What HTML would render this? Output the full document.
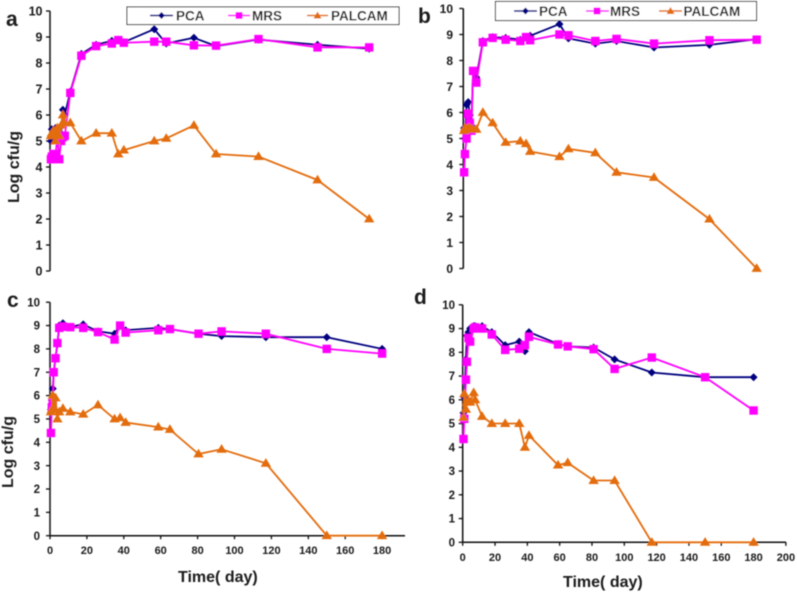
<!DOCTYPE html>
<html>
<head>
<meta charset="utf-8">
<style>
html,body{margin:0;padding:0;background:#fff}
svg{display:block;font-family:"Liberation Sans",sans-serif;font-weight:bold;fill:#1a1a1a}
</style>
</head>
<body>
<svg id="figure" width="797" height="593" viewBox="0 0 797 593" xmlns="http://www.w3.org/2000/svg">
  <defs><filter id="soft" x="-5%" y="-5%" width="110%" height="110%"><feGaussianBlur stdDeviation="0.45"/></filter></defs>
  <g id="root" filter="url(#soft)">
    <text x="6" y="26" font-size="21">a</text>
    <text x="418" y="23" font-size="21">b</text>
    <text x="7" y="307" font-size="21">c</text>
    <text x="414" y="304" font-size="21">d</text>
    <text transform="translate(19,203) rotate(-90)" font-size="16">Log cfu/g</text>
    <text transform="translate(13,488) rotate(-90)" font-size="16">Log cfu/g</text>
    <text x="178" y="582" font-size="16">Time( day)</text>
    <text x="563" y="587" font-size="16">Time( day)</text>

    <g>
      <rect x="127" y="7" width="272" height="17.5" fill="#fff" stroke="#333" stroke-width="1"/>
      <line x1="150" y1="15.5" x2="173" y2="15.5" stroke="#000080" stroke-width="1.6"/>
      <polygon points="161.5,12 165,15.5 161.5,19 158,15.5" fill="#000080"/>
      <text x="176" y="20.5" font-size="13.5">PCA</text>
      <line x1="228" y1="15.5" x2="250" y2="15.5" stroke="#ff00ff" stroke-width="1.6"/>
      <rect x="235.5" y="12" width="7" height="7" fill="#ff00ff"/>
      <text x="252" y="20.5" font-size="13.5">MRS</text>
      <line x1="307" y1="15.5" x2="328" y2="15.5" stroke="#e36c0a" stroke-width="1.6"/>
      <polygon points="317.5,11.5 321.5,18.5 313.5,18.5" fill="#e36c0a"/>
      <text x="331" y="20.5" font-size="13.5">PALCAM</text>
    </g>
    <g>
      <rect x="495.5" y="1.5" width="261" height="19" fill="#fff" stroke="#333" stroke-width="1"/>
      <line x1="514" y1="11" x2="537" y2="11" stroke="#000080" stroke-width="1.6"/>
      <polygon points="525.5,7.5 529,11 525.5,14.5 522,11" fill="#000080"/>
      <text x="539" y="16" font-size="13.5">PCA</text>
      <line x1="586" y1="11" x2="609" y2="11" stroke="#ff00ff" stroke-width="1.6"/>
      <rect x="593.5" y="7.5" width="7" height="7" fill="#ff00ff"/>
      <text x="610" y="16" font-size="13.5">MRS</text>
      <line x1="659" y1="11" x2="682" y2="11" stroke="#e36c0a" stroke-width="1.6"/>
      <polygon points="670.5,7 674.5,14 666.5,14" fill="#e36c0a"/>
      <text x="683.5" y="16" font-size="13.5">PALCAM</text>
    </g>
  </g>
</svg>
<script>
var yTickLabels = ["0","1","2","3","4","5","6","7","8","9","10"];
var xTickLabels = ["0","20","40","60","80","100","120","140","160","180","200"];

var aDays = [0.5,1,2,3,4,5,6,7,8,11,17,25,33.5,37,40,56.5,63,78,90,113,145,173];
var aPca = [5.0,5.45,5.1,5.5,5.2,5.5,5.3,6.2,6.0,6.9,8.35,8.7,8.85,8.9,8.8,9.3,8.75,8.97,8.65,8.9,8.7,8.55];
var aMrs = [4.3,4.4,4.5,4.4,5.2,4.3,5.0,5.15,5.2,6.85,8.28,8.65,8.75,8.88,8.78,8.82,8.82,8.68,8.67,8.92,8.6,8.6];
var aPalcam = [5.2,5.3,5.4,5.0,5.5,5.2,5.6,6.0,5.7,5.7,5.0,5.3,5.3,4.5,4.65,5.0,5.1,5.6,4.5,4.4,3.5,2.0];

var bDays = [0.5,1,2,3,4,5,6,8,12,18,26,35,38.5,41,59,64.5,81,94,117,151,180];
var bPca = [5.4,5.0,6.3,6.4,5.9,5.5,7.6,7.35,8.75,8.9,8.87,8.8,8.9,8.95,9.4,8.85,8.65,8.75,8.5,8.6,8.82];
var bMrs = [3.7,4.4,5.0,5.95,5.6,5.3,7.6,7.15,8.7,8.87,8.8,8.75,8.9,8.78,9.0,8.97,8.75,8.83,8.65,8.78,8.8];
var bPalcam = [5.3,5.4,5.35,5.4,5.4,5.35,5.35,5.35,6.0,5.6,4.85,4.9,4.8,4.5,4.3,4.6,4.45,3.7,3.5,1.9,0];

var cDays = [0.5,1,1.5,2,3,4,5,7,11,18,26,35,38,41,58.7,65,80.5,93,117,150,180];
var cPca = [5.4,5.8,6.3,7.0,7.6,8.2,9.0,9.1,8.95,9.05,8.75,8.65,9.0,8.8,8.9,8.85,8.65,8.55,8.5,8.5,8.0];
var cMrs = [4.4,5.5,5.7,7.0,7.6,8.25,8.9,8.95,8.93,8.9,8.72,8.4,9.0,8.7,8.8,8.85,8.65,8.75,8.65,8.0,7.8];
var cPalcam = [5.3,5.4,6.0,5.5,5.9,5.0,5.3,5.45,5.3,5.2,5.6,5.0,5.05,4.85,4.65,4.55,3.5,3.7,3.1,0,0];

var dDays = [0.5,1,2,2.6,3.6,4.6,6.8,7.7,12,18,26.3,35,38.5,41,59,65,81,94,117,150,180];
var dPca = [5.45,6.1,7.7,8.7,8.85,9.0,9.1,9.1,9.1,8.85,8.3,8.45,8.05,8.85,8.35,8.25,8.2,7.7,7.15,6.95,6.95];
var dMrs = [4.35,5.2,6.85,7.6,8.6,8.45,9.0,9.05,9.0,8.75,8.1,8.15,8.3,8.65,8.33,8.25,8.13,7.3,7.78,6.95,5.55];
var dPalcam = [5.25,6.25,5.6,5.9,5.95,5.9,6.3,6.0,5.3,5.0,5.0,5.0,4.0,4.5,3.25,3.35,2.6,2.6,0,0,0];

var NS = "http://www.w3.org/2000/svg";
var root = document.getElementById("root");

function mk(tag, attrs, parent) {
  var el = document.createElementNS(NS, tag);
  for (var k in attrs) el.setAttribute(k, attrs[k]);
  parent.appendChild(el);
  return el;
}

function drawPanel(p) {
  function sx(d) { return p.x0 + d * p.xScale; }
  function sy(v) { return p.y0 - v * p.yScale; }

  var g = mk("g", {}, root);
  
  

  var yAxis = mk("line", {x1:p.x0, y1:sy(10), x2:p.x0, y2:p.y0, stroke:"#111", "stroke-width":1.5}, g);
  
  

  yTickLabels.forEach(function (label) {
    var v = Number(label);
    mk("line", {x1:p.x0 - 4, y1:sy(v), x2:p.x0, y2:sy(v), stroke:"#111", "stroke-width":1.3}, g);
    var t = mk("text", {x:p.yLabelX, y:sy(v) + p.yFont * 0.36, "text-anchor":"end", "font-size":p.yFont}, g);
    t.textContent = label;
    
    
  });

  if (p.showX) {
    var xAxis = mk("line", {x1:p.x0, y1:p.y0, x2:p.xEnd, y2:p.y0, stroke:"#111", "stroke-width":1.5}, g);
    
    
    xTickLabels.forEach(function (label) {
      var d = Number(label);
      if (sx(d) > p.xEnd) return;
      mk("line", {x1:sx(d), y1:p.y0, x2:sx(d), y2:p.y0 + 3.5, stroke:"#111", "stroke-width":1.3}, g);
      var t = mk("text", {x:sx(d), y:p.y0 + 18.5, "text-anchor":"middle", "font-size":11}, g);
      t.textContent = label;
      
      
    });
  }

  function series(name, values, color, marker) {
    var s = mk("g", {}, g);
    
    
    var pts = values.map(function (v, i) { return sx(p.days[i]).toFixed(1) + "," + sy(v).toFixed(1); }).join(" ");
    mk("polyline", {points:pts, fill:"none", stroke:color, "stroke-width":1.8, "stroke-linejoin":"round"}, s);
    values.forEach(function (v, i) {
      var x = sx(p.days[i]), y = sy(v), m;
      if (marker === "diamond") {
        m = mk("polygon", {points:[x,y-4,x+4,y,x,y+4,x-4,y].join(" "), fill:color}, s);
      } else if (marker === "square") {
        m = mk("rect", {x:x-4.2, y:y-4.2, width:8.4, height:8.4, fill:color}, s);
      } else {
        m = mk("polygon", {points:[x,y-5.2,x+5.2,y+3.4,x-5.2,y+3.4].join(" "), fill:color}, s);
      }
      
      
    });
  }
  series("pca", p.pca, "#000080", "diamond");
  series("mrs", p.mrs, "#ff00ff", "square");
  series("palcam", p.palcam, "#e36c0a", "triangle");
}

drawPanel({id:"a", x0:50, y0:271, xScale:1.845, yScale:26, yLabelX:42.5, yFont:12.5, showX:false, days:aDays, pca:aPca, mrs:aMrs, palcam:aPalcam});
drawPanel({id:"b", x0:463.3, y0:268.5, xScale:1.63, yScale:26, yLabelX:453, yFont:12, showX:false, days:bDays, pca:bPca, mrs:bMrs, palcam:bPalcam});
drawPanel({id:"c", x0:50, y0:535.7, xScale:1.845, yScale:23.35, yLabelX:40, yFont:11.5, showX:true, xEnd:405, days:cDays, pca:cPca, mrs:cMrs, palcam:cPalcam});
drawPanel({id:"d", x0:462.7, y0:542.3, xScale:1.616, yScale:23.75, yLabelX:455, yFont:11.5, showX:true, xEnd:786, days:dDays, pca:dPca, mrs:dMrs, palcam:dPalcam});
</script>
</body>
</html>
